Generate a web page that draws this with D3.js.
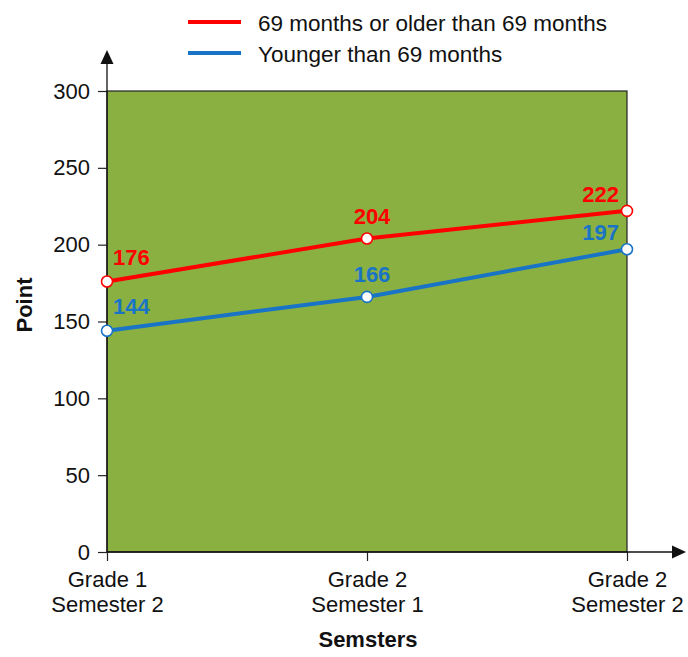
<!DOCTYPE html>
<html>
<head>
<meta charset="utf-8">
<script src="https://cdn.jsdelivr.net/npm/d3@7"></script>
<style>
  html, body { margin: 0; padding: 0; background: #fff; }
  svg { display: block; font-family: "Liberation Sans", Arial, sans-serif; }
</style>
</head>
<body>
<svg id="chart" width="688" height="657"></svg>
<script>
// Semesters on the x axis, as two-line labels
const semesters = ["Grade 1\nSemester 2", "Grade 2\nSemester 1", "Grade 2\nSemester 2"];
// Mean points per age group
const olderValues = [176, 204, 222];
const youngerValues = [144, 166, 197];
const seriesNames = ["69 months or older than 69 months", "Younger than 69 months"];
const yTicks = [0, 50, 100, 150, 200, 250, 300];

const colors = ["#ff0000", "#1a74c6"];
const plotFill = "#8ab042";

const svg = d3.select("#chart");
const m = { left: 107, right: 627, top: 91, bottom: 552 };

const x = d3.scalePoint().domain(semesters).range([m.left, m.right]);
const y = d3.scaleLinear().domain([0, 300]).range([m.bottom, m.top]);

// plot background
svg.append("rect")
  .attr("x", m.left).attr("y", m.top)
  .attr("width", m.right - m.left).attr("height", m.bottom - m.top)
  .attr("fill", plotFill).attr("stroke", "#222").attr("stroke-width", 1.2);

// y axis
const yAxis = svg.append("g").attr("transform", `translate(${m.left},0)`)
  .call(d3.axisLeft(y).tickValues(yTicks).tickSize(9).tickPadding(8));
yAxis.select(".domain").remove();
yAxis.selectAll(".tick line").attr("stroke", "#222").attr("stroke-width", 1.2);
yAxis.selectAll(".tick text").attr("font-size", 22).attr("fill", "#111")
  .attr("font-family", "Liberation Sans, Arial, sans-serif");

// x axis
const xAxis = svg.append("g").attr("transform", `translate(0,${m.bottom})`)
  .call(d3.axisBottom(x).tickSize(9).tickPadding(10));
xAxis.select(".domain").remove();
xAxis.selectAll(".tick line").attr("stroke", "#222").attr("stroke-width", 1.2);
xAxis.selectAll(".tick text").each(function(d) {
  const t = d3.select(this).text(null)
    .attr("font-size", 22).attr("fill", "#111")
    .attr("font-family", "Liberation Sans, Arial, sans-serif");
  d.split("\n").forEach((line, i) => {
    t.append("tspan").attr("x", 0).attr("dy", i === 0 ? "0.71em" : "1.15em").text(line);
  });
});

// axis lines with arrowheads
svg.append("line").attr("x1", m.left).attr("x2", m.left).attr("y1", m.bottom).attr("y2", 62)
  .attr("stroke", "#111").attr("stroke-width", 1.3);
svg.append("path").attr("d", `M${m.left},50 L${m.left - 6.5},64 L${m.left + 6.5},64 Z`).attr("fill", "#111");
svg.append("line").attr("x1", m.left).attr("x2", 674).attr("y1", m.bottom).attr("y2", m.bottom)
  .attr("stroke", "#111").attr("stroke-width", 1.3);
svg.append("path").attr("d", `M686,${m.bottom} L672,${m.bottom - 6.5} L672,${m.bottom + 6.5} Z`).attr("fill", "#111");

// axis titles
svg.append("text").attr("x", 368).attr("y", 647).attr("text-anchor", "middle")
  .attr("font-size", 22).attr("font-weight", "bold").attr("fill", "#111").text("Semsters");
svg.append("text").attr("transform", "translate(32,305) rotate(-90)").attr("text-anchor", "middle")
  .attr("font-size", 22).attr("font-weight", "bold").attr("fill", "#111").text("Point");

// series lines, markers and value labels
const series = [olderValues, youngerValues];
const line = d3.line().x((d, i) => x(semesters[i])).y(d => y(d));
const labelPos = [
  { dx: 6, dy: -17, anchor: "start" },
  { dx: 5, dy: -15, anchor: "middle" },
  { dx: -8, dy: -9, anchor: "end" }
];

series.forEach((vals, s) => {
  svg.append("path").datum(vals).attr("d", line)
    .attr("fill", "none").attr("stroke", colors[s]).attr("stroke-width", 4);
  svg.selectAll(null).data(vals).enter().append("circle")
    .attr("cx", (d, i) => x(semesters[i])).attr("cy", d => y(d)).attr("r", 5.5)
    .attr("fill", "#fff").attr("stroke", colors[s]).attr("stroke-width", 1.6);
  svg.selectAll(null).data(vals).enter().append("text")
    .attr("x", (d, i) => x(semesters[i]) + labelPos[i].dx)
    .attr("y", d => y(d) + labelPos[d === vals[0] ? 0 : vals.indexOf(d)].dy)
    .attr("text-anchor", (d, i) => labelPos[i].anchor)
    .attr("font-size", 22).attr("font-weight", "bold").attr("fill", colors[s])
    .text(d => d);
});

// legend
const legend = svg.append("g");
seriesNames.forEach((name, i) => {
  const ly = 22 + i * 31;
  legend.append("line").attr("x1", 188).attr("x2", 241).attr("y1", ly).attr("y2", ly)
    .attr("stroke", colors[i]).attr("stroke-width", 4);
  legend.append("text").attr("x", 258).attr("y", ly + 8.5)
    .attr("font-size", 22.5).attr("fill", "#111").text(name);
});
</script>
</body>
</html>
